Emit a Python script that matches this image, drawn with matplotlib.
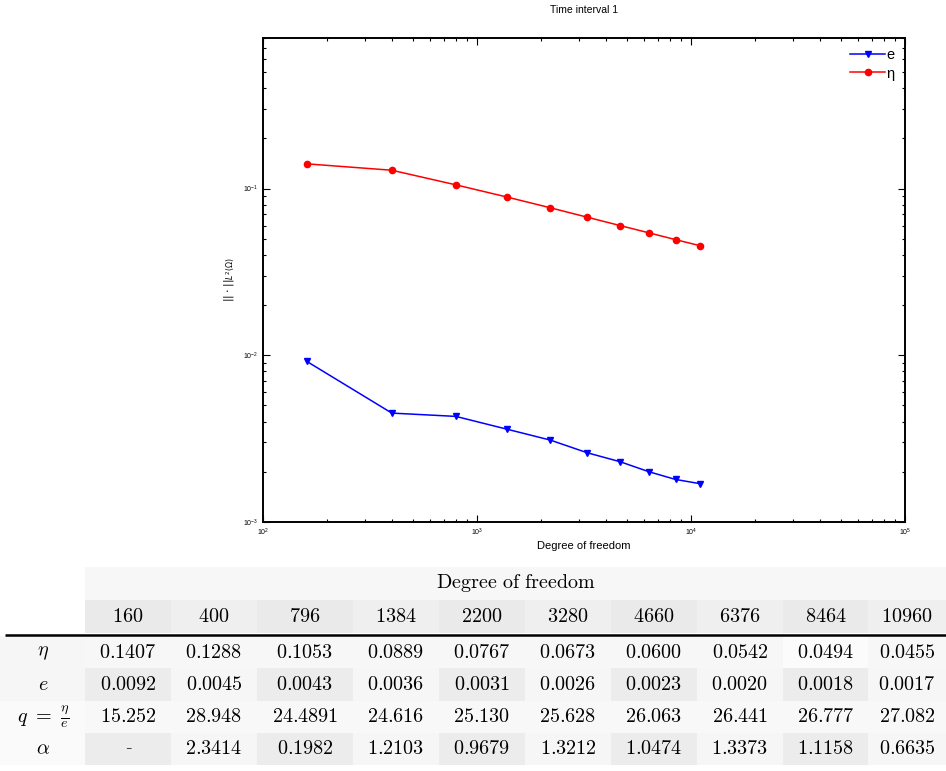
import matplotlib
matplotlib.use('Agg')
import matplotlib.pyplot as plt
from matplotlib.patches import Rectangle
from matplotlib.ticker import LogLocator, NullFormatter

plt.rcParams['font.family'] = ['Liberation Sans', 'DejaVu Sans']
plt.rcParams['mathtext.fontset'] = 'cm'

# data
dof = [160, 400, 796, 1384, 2200, 3280, 4660, 6376, 8464, 10960]
eta = [0.1407, 0.1288, 0.1053, 0.0889, 0.0767, 0.0673, 0.0600, 0.0542, 0.0494, 0.0455]
err = [0.0092, 0.0045, 0.0043, 0.0036, 0.0031, 0.0026, 0.0023, 0.0020, 0.0018, 0.0017]
q_txt = ['15.252', '28.948', '24.4891', '24.616', '25.130', '25.628', '26.063', '26.441', '26.777', '27.082']
alpha_txt = ['-', '2.3414', '0.1982', '1.2103', '0.9679', '1.3212', '1.0474', '1.3373', '1.1158', '0.6635']
eta_txt = ['%.4f' % v for v in eta]
err_txt = ['%.4f' % v for v in err]
row_labels = [r'$\eta$', r'$e$', r'$q\ =\ \frac{\eta}{e}$', r'$\alpha$']

W, H = 946, 771
fig = plt.figure(figsize=(W / 100, H / 100), dpi=100)

# ---- plot ----
ax = fig.add_axes([263 / W, 1 - 522 / H, 642 / W, 484 / H])
ax.loglog(dof, err, '-v', color='#0000ff', lw=1.1, ms=4.5, label='e')
ax.loglog(dof, eta, '-o', color='#ff0000', lw=1.1, ms=4.5, label='η')
ax.set_xlim(1e2, 1e5)
ax.set_ylim(1e-3, 0.8)
for s in ax.spines.values():
    s.set_linewidth(1.4)
ax.tick_params(which='both', direction='in', top=True, right=True, labelsize=5, width=0.8)
ax.tick_params(which='major', length=5)
ax.tick_params(which='minor', length=2.5)
ax.xaxis.set_major_locator(LogLocator(base=10, numticks=10))
ax.xaxis.set_minor_locator(LogLocator(base=10, subs=range(2, 10), numticks=20))
ax.yaxis.set_minor_locator(LogLocator(base=10, subs=range(2, 10), numticks=20))
ax.xaxis.set_minor_formatter(NullFormatter())
ax.yaxis.set_minor_formatter(NullFormatter())
ax.set_xlabel('Degree of freedom', fontsize=8, labelpad=2)
ax.set_ylabel(r'$||\cdot||_{L^2(\Omega)}$', fontsize=8, labelpad=4)
ax.yaxis.label.set_math_fontfamily('dejavusans')
ax.set_title('Time interval 1', fontsize=7.5, pad=18)
ax.legend(loc='upper right', frameon=False, fontsize=10.5, handlelength=2.4,
          handletextpad=0.1, borderaxespad=0.3, labelspacing=0.3)

# ---- table ----
tb = fig.add_axes([0, 0, 1, 1], zorder=-1)
tb.set_xlim(0, W)
tb.set_ylim(H, 0)
tb.axis('off')

edges = [85, 171, 257, 353, 439, 525, 611, 697, 783, 868, 946]
rows_y = [636, 668, 701, 733, 765]
fs = 14.5

tb.add_patch(Rectangle((85, 567), W - 85, 33, color='#f7f7f7', lw=0))
tb.text((85 + W) / 2, 583, r'$\mathrm{Degree\ of\ freedom}$', ha='center', va='center', fontsize=fs)

for i, d in enumerate(dof):
    x0, x1 = edges[i], edges[i + 1]
    c = '#eaeaea' if i % 2 == 0 else '#efefef'
    tb.add_patch(Rectangle((x0, 600), x1 - x0, 33, color=c, lw=0))
    tb.text((x0 + x1) / 2, 617, r'$%d$' % d, ha='center', va='center', fontsize=fs)

tb.plot([5, W], [634.5, 634.5], color='black', lw=1.8, solid_capstyle='butt')

table_rows = [eta_txt, err_txt, q_txt, alpha_txt]
for r, vals in enumerate(table_rows):
    y0, y1 = rows_y[r], rows_y[r + 1]
    label_c = '#f6f6f6' if r in (0, 1) else '#fafafa'
    tb.add_patch(Rectangle((0, y0), 85, y1 - y0, color=label_c, lw=0))
    tb.text(43, (y0 + y1) / 2, row_labels[r], ha='center', va='center', fontsize=fs)
    for i, v in enumerate(vals):
        x0, x1 = edges[i], edges[i + 1]
        if r in (1, 3):
            c = '#ececec' if i % 2 == 0 else '#f6f6f6'
        elif r == 0:
            c = '#f7f7f7' if i != 8 else '#fbfbfb'
        else:
            c = '#f8f8f8'
        tb.add_patch(Rectangle((x0, y0), x1 - x0, y1 - y0, color=c, lw=0))
        if v == '-':
            tb.text((x0 + x1) / 2, (y0 + y1) / 2, v, ha='center', va='center',
                    fontsize=fs - 1, family='DejaVu Serif', color='#333333')
        else:
            tb.text((x0 + x1) / 2, (y0 + y1) / 2, r'$%s$' % v, ha='center', va='center', fontsize=fs)

fig.savefig('out.png', dpi=100)
